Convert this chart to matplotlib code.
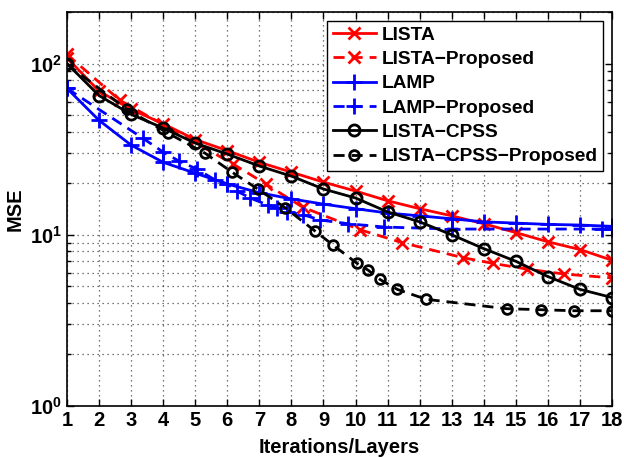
import matplotlib
matplotlib.use("Agg")
import matplotlib.pyplot as plt
from matplotlib.ticker import LogLocator, NullFormatter

plt.rcParams['font.family'] = ['Liberation Sans', 'DejaVu Sans']
plt.rcParams['font.weight'] = 'bold'
plt.rcParams['mathtext.fontset'] = 'custom'
plt.rcParams['mathtext.rm'] = 'Liberation Sans:bold'
plt.rcParams['mathtext.bf'] = 'Liberation Sans:bold'

# layers 1..18 for the baseline networks
layers = list(range(1, 19))
lista = [108, 69, 54, 44.5, 36, 31, 26.5, 23.2, 20.3, 18, 15.8, 14.2, 12.9, 11.6, 10.3, 9.1, 8.2, 7.1]
lamp = [71.6, 46.6, 33.4, 26.5, 22.9, 19.8, 17.6, 16.2, 15.1, 14.2, 13.4, 12.9, 12.4, 11.9, 11.7, 11.5, 11.4, 11.2]
cpss = [100, 65, 50.5, 42, 34.3, 29.6, 25.2, 22, 18.5, 16.4, 13.6, 11.9, 10, 8.3, 7.0, 5.7, 4.8, 4.3]

# proposed variants (points at non-integer positions)
lista_p_x = [1, 2.65, 6.18, 7.2, 8.35, 10.14, 11.45, 13.35, 14.3, 15.35, 16.5, 18]
lista_p = [113, 61, 25.9, 19.8, 14.5, 10.7, 9.0, 7.35, 6.8, 6.3, 5.9, 5.6]
lamp_p_x = [1, 3.37, 4.0, 4.5, 5.05, 5.62, 6.0, 6.3, 6.71, 7.27, 7.55, 7.86, 8.36, 8.9, 9.77, 10.9, 13.0, 17.7, 18]
lamp_p = [71.6, 36.6, 30.4, 26.9, 24.2, 20.9, 19.8, 18.0, 16.4, 14.9, 14.4, 13.6, 13.1, 12.2, 11.6, 11.1, 10.8, 10.8, 10.8]
cpss_p_x = [1, 2.87, 4.15, 5.3, 6.15, 6.95, 7.8, 8.74, 9.3, 10.05, 10.4, 10.75, 11.3, 12.2, 14.72, 15.78, 16.81, 18]
cpss_p = [99, 54, 39.2, 30, 23.2, 18.5, 14.4, 10.5, 8.7, 6.8, 6.2, 5.5, 4.8, 4.2, 3.7, 3.65, 3.6, 3.6]

fig = plt.figure(figsize=(6.24, 4.57), dpi=100)
ax = fig.add_axes([0.1074, 0.1116, 0.8734, 0.8621])

dash = (4, 2.5)
ax.plot(layers, lista, color='red', lw=2, marker='x', ms=9, mew=2, label='LISTA')
ax.plot(lista_p_x, lista_p, color='red', lw=2, ls='--', dashes=dash, marker='x', ms=9, mew=2,
        label='LISTA\u2212Proposed')
ax.plot(layers, lamp, color='blue', lw=2, marker='+', ms=11, mew=2, label='LAMP')
ax.plot(lamp_p_x, lamp_p, color='blue', lw=2, ls='--', dashes=dash, marker='+', ms=11, mew=2,
        label='LAMP\u2212Proposed')
ax.plot(layers, cpss, color='black', lw=2, marker='o', ms=8, mew=2, mfc='none', label='LISTA\u2212CPSS')
ax.plot(cpss_p_x, cpss_p, color='black', lw=2, ls='--', dashes=dash, marker='o', ms=7, mew=2, mfc='none',
        label='LISTA\u2212CPSS\u2212Proposed')

ax.set_yscale('log')
ax.set_xlim(1, 18)
ax.set_ylim(1, 200)
ax.set_xticks(layers)
ax.set_yticks([1, 10, 100])
ax.set_yticklabels([r'$10^{0}$', r'$10^{1}$', r'$10^{2}$'])
ax.yaxis.set_minor_locator(LogLocator(base=10, subs=range(2, 10)))
ax.yaxis.set_minor_formatter(NullFormatter())

ax.tick_params(which='both', direction='in', top=True, right=True, labelsize=14.5, width=1)
ax.tick_params(which='major', length=5)
ax.tick_params(which='minor', length=3)
grid_ls = (0, (1, 3))
ax.grid(True, which='major', ls=grid_ls, color='black', lw=0.9, alpha=0.7)
ax.grid(True, which='minor', axis='y', ls=grid_ls, color='black', lw=0.9, alpha=0.7)
for s in ax.spines.values():
    s.set_linewidth(1.2)

ax.set_xlabel('Iterations/Layers', fontsize=14.5, fontweight='bold', labelpad=6)
ax.set_ylabel('MSE', fontsize=14.5, fontweight='bold', labelpad=4)

leg = ax.legend(loc='upper right', fontsize=13.8, handlelength=2.25, borderpad=0.3,
                labelspacing=0.36, handletextpad=0.3, fancybox=False, framealpha=1,
                edgecolor='black', borderaxespad=0.45)
leg.get_frame().set_linewidth(1)

fig.savefig('out.png', dpi=100)
